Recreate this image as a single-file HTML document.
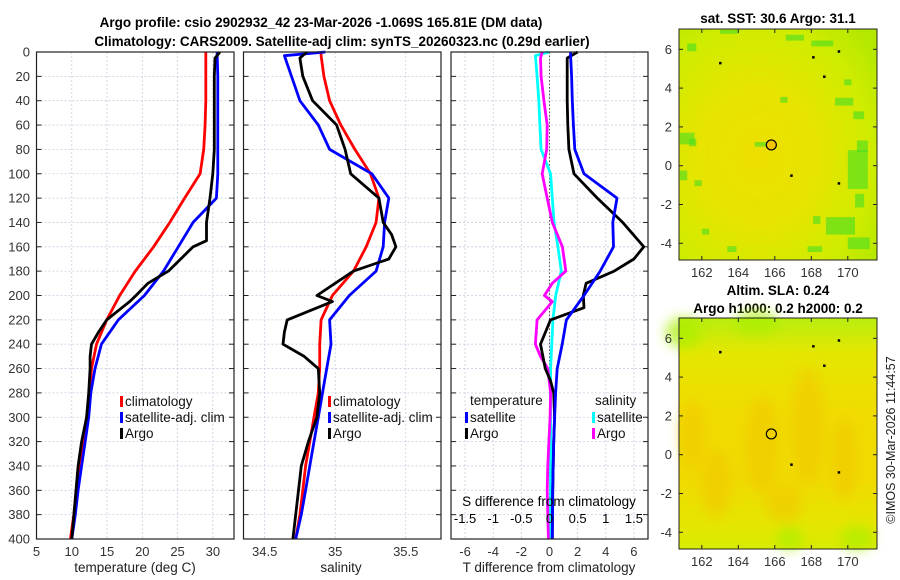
<!DOCTYPE html>
<html><head><meta charset="utf-8"><style>
body{margin:0;background:#fff;}
svg{display:block;font-family:"Liberation Sans","DejaVu Sans",sans-serif;}
</style></head><body>
<svg id="fig" width="900" height="580" viewBox="0 0 900 580" xmlns="http://www.w3.org/2000/svg">
<defs>
<radialGradient id="sstg" cx="0.4" cy="0.55" r="0.75">
<stop offset="0" stop-color="#eedf00"/><stop offset="0.4" stop-color="#e6e400"/><stop offset="0.75" stop-color="#d0ec00"/><stop offset="1" stop-color="#b4e800"/></radialGradient>
<linearGradient id="slag" x1="0" y1="0" x2="0" y2="1">
<stop offset="0" stop-color="#b8ee10"/><stop offset="0.15" stop-color="#e4e600"/><stop offset="0.4" stop-color="#f0dc00"/><stop offset="0.7" stop-color="#f0da00"/><stop offset="0.9" stop-color="#e4e600"/><stop offset="1" stop-color="#d8ea00"/></linearGradient>
<filter id="blur6"><feGaussianBlur stdDeviation="6"/></filter>
</defs>
<g id="titles" font-weight="bold" font-size="13.5" fill="#000" text-anchor="middle">
<text x="321" y="27">Argo profile: csio 2902932_42 23-Mar-2026 -1.069S 165.81E (DM data)</text>
<text x="342" y="46">Climatology: CARS2009. Satellite-adj clim: synTS_20260323.nc (0.29d earlier)</text>
<text x="778" y="23">sat. SST: 30.6 Argo: 31.1</text>
<text x="778" y="295">Altim. SLA: 0.24</text>
<text x="778" y="313">Argo h1000: 0.2 h2000: 0.2</text>
</g>
<text transform="translate(895,440) rotate(-90)" font-size="12.5" text-anchor="middle" fill="#222">©IMOS 30-Mar-2026 11:44:57</text>
<g id="plots"></g>
</svg>
<script>
// ---- data (depth in dbar) ----
const depths = [0,20,40,60,80,100,120,140,160,180,200,220,240,260,280,300,320,340,360,380,400];
const tempClim = [29.0,29.0,29.0,28.9,28.7,28.2,26.0,23.9,21.6,19.0,16.8,14.95,13.5,12.8,12.5,12.1,11.65,11.1,10.7,10.3,9.8];
const tempSat  = [30.6,30.7,30.7,30.7,30.7,30.7,30.5,27.2,25.1,23.0,20.3,16.6,14.2,13.3,12.7,12.4,11.9,11.4,10.9,10.5,10.0];
const argoDepths = [0,5,20,40,60,80,100,120,140,155,160,180,190,200,205,220,230,240,250,260,280,300,320,340,360,380,400];
const tempArgo = [31.0,30.3,30.2,30.2,30.2,30.2,30.0,29.6,29.1,29.1,27.2,23.7,20.8,19.1,18.2,14.95,13.8,12.8,12.6,12.6,12.4,12.1,11.4,10.9,10.6,10.3,10.0];
const satDepths = [0,3,20,40,60,80,100,120,140,160,180,200,220,240,260,280,300,320,340,360,380,400];
const salClim = [34.90,34.90,34.92,34.96,35.04,35.14,35.25,35.31,35.29,35.22,35.13,34.98,34.90,34.89,34.89,34.88,34.85,34.82,34.79,34.77,34.75,34.72];
const salSat  = [34.93,34.64,34.69,34.75,34.88,34.96,35.26,35.38,35.35,35.34,35.29,35.10,34.96,34.97,34.94,34.91,34.88,34.85,34.82,34.79,34.76,34.72];
const salArgo = [34.80,34.75,34.77,34.84,35.01,35.07,35.11,35.31,35.34,35.40,35.43,35.38,35.13,34.87,34.98,34.66,34.64,34.63,34.78,34.88,34.89,34.87,34.81,34.76,34.74,34.72,34.70];
const salArgoDepths = [0,5,20,40,60,80,100,120,140,150,160,170,180,200,205,220,230,240,250,260,280,300,320,340,360,380,400];
const tdiffSat  = [1.5,1.5,1.57,1.62,1.7,1.8,2.45,4.8,4.5,4.55,3.6,2.45,1.2,0.9,0.55,0.43,0.36,0.3,0.26,0.23,0.21,0.2];
const tdiffArgo = [2.0,1.26,1.26,1.26,1.3,1.38,1.74,3.4,5.2,6.7,6.0,4.6,2.6,2.4,2.45,0.07,-0.64,-0.3,0.07,0.3,0.36,0.3,0.26,0.23,0.21,0.2];
const tdiffArgoDepths = [0,5,20,40,60,80,100,120,140,160,170,180,190,200,210,220,240,260,270,280,300,320,340,360,380,400];
const sdiffSat  = [-0.01,-0.25,-0.22,-0.19,-0.17,-0.15,0.02,0.05,0.08,0.15,0.21,0.11,0.06,0.04,0.02,0.02,0.02,0.02,0.02,0.02,0.02,0.02];
const sdiffArgo = [-0.13,-0.16,-0.15,-0.1,-0.04,-0.05,-0.13,-0.04,0.05,0.23,0.29,0.05,-0.09,0.05,-0.22,-0.25,-0.16,-0.03,0.02,0.01,-0.01,-0.03,-0.04,-0.03,-0.02];
const sdiffArgoDepths = [0,5,20,40,60,80,100,120,140,160,180,190,200,205,220,240,250,260,280,300,320,340,360,380,400];
const depthTicks = [0,20,40,60,80,100,120,140,160,180,200,220,240,260,280,300,320,340,360,380,400];
const tempTicks = [5,10,15,20,25,30];
const salTicks = [34.5,35,35.5];
const tdiffTicks = [-6,-4,-2,0,2,4,6];
const sdiffTicks = [-1.5,-1,-0.5,0,0.5,1,1.5];
const sdiffTickLabels = ["-1.5","-1","-0.5","0","0.5","1","1.5"];

const NS="http://www.w3.org/2000/svg";
const root=document.getElementById('plots');
function mk(tag,attrs,parent){const e=document.createElementNS(NS,tag);for(const k in attrs)e.setAttribute(k,attrs[k]);(parent||root).appendChild(e);return e;}
const Y0=52,Y1=539;
function yD(d){return Y0+d*(Y1-Y0)/400;}
function linX(x0,x1,v0,v1){return v=>x0+(v-v0)*(x1-x0)/(v1-v0);}
const panels=[
 {name:'temperature',x0:36.5,x1:234,sx:linX(36.5,234,5,33),ticks:tempTicks,labels:tempTicks.map(String),xlabel:'temperature (deg C)',lx:135},
 {name:'salinity',x0:243.5,x1:441,sx:linX(243.5,441,34.35,35.75),ticks:salTicks,labels:salTicks.map(String),xlabel:'salinity',lx:341},
 {name:'difference',x0:451,x1:648,sx:linX(451,648,-7,7),ticks:tdiffTicks,labels:tdiffTicks.map(String),xlabel:'T difference from climatology',lx:549}
];
const sxS=linX(451,648,-1.75,1.75);
panels.forEach((p,i)=>{
 const g=mk('g',{});
 
 
 depthTicks.forEach(d=>{const l=mk('line',{x1:p.x0,x2:p.x1,y1:yD(d),y2:yD(d),stroke:'#c8cde0','stroke-width':0.8,'stroke-dasharray':'2,2'},g);
  
  mk('line',{x1:p.x0,x2:p.x0+5,y1:yD(d),y2:yD(d),stroke:'#222'},g);
  mk('line',{x1:p.x1,x2:p.x1-5,y1:yD(d),y2:yD(d),stroke:'#222'},g);});
 p.ticks.forEach((t,j)=>{const x=p.sx(t);
  const l=mk('line',{x1:x,x2:x,y1:Y0,y2:Y1,stroke:'#c8cde0','stroke-width':0.8,'stroke-dasharray':'2,2'},g);
  
  const tx=mk('text',{x:x,y:Y1+17,'font-size':13,'text-anchor':'middle',fill:'#333'},g);tx.textContent=p.labels[j];
  });
 const xl=mk('text',{x:p.lx,y:572,'font-size':13.5,'text-anchor':'middle',fill:'#222'},g);xl.textContent=p.xlabel;
 
});
depthTicks.forEach(d=>{const t=mk('text',{x:30,y:yD(d)+4.5,'font-size':13,'text-anchor':'end',fill:'#333'});t.textContent=String(d);
 });
const zl=mk('line',{x1:panels[2].sx(0),x2:panels[2].sx(0),y1:Y0,y2:Y1,stroke:'#555','stroke-width':1,'stroke-dasharray':'1.5,2'});

function series(xs,ds,sx,color,name){const pts=xs.map((v,k)=>sx(v).toFixed(1)+','+yD(ds[k]).toFixed(1)).join(' ');
 const l=mk('polyline',{points:pts,fill:'none',stroke:color,'stroke-width':2.8,'stroke-linejoin':'round'});
 }
const P=panels;
series(tempClim,depths,P[0].sx,'#f00','temp-climatology-line');
series(tempSat,depths,P[0].sx,'#00f','temp-satellite-line');
series(tempArgo,argoDepths,P[0].sx,'#000','temp-argo-line');
series(salClim,satDepths,P[1].sx,'#f00','sal-climatology-line');
series(salSat,satDepths,P[1].sx,'#00f','sal-satellite-line');
series(salArgo,salArgoDepths,P[1].sx,'#000','sal-argo-line');
series(sdiffSat,satDepths,sxS,'#00ffff','sdiff-satellite-line');
series(sdiffArgo,sdiffArgoDepths,sxS,'#ff00ff','sdiff-argo-line');
series(tdiffArgo,tdiffArgoDepths,P[2].sx,'#000','tdiff-argo-line');
series(tdiffSat,satDepths,P[2].sx,'#00f','tdiff-satellite-line');
P.forEach(p=>{const r=mk('rect',{x:p.x0,y:Y0,width:p.x1-p.x0,height:Y1-Y0,fill:'none',stroke:'#222','stroke-width':1.2});
 });
const st=mk('text',{x:549,y:506,'font-size':13.5,'text-anchor':'middle',fill:'#000'});st.textContent='S difference from climatology';

sdiffTicks.forEach((t,j)=>{const e=mk('text',{x:sxS(t),y:523,'font-size':13,'text-anchor':'middle',fill:'#000'});e.textContent=sdiffTickLabels[j];
 });
function legend(x,y,color,label,name){const g=mk('g',{});
 mk('rect',{x:x,y:y-10,width:3,height:11,fill:color},g);
 const t=mk('text',{x:x+5,y:y,'font-size':13.5,fill:'#111'},g);t.textContent=label;}
legend(120,406,'#f00','climatology','legend-temp-climatology');
legend(120,422,'#00f','satellite-adj. clim','legend-temp-satellite');
legend(120,438,'#000','Argo','legend-temp-argo');
legend(328,406,'#f00','climatology','legend-sal-climatology');
legend(328,422,'#00f','satellite-adj. clim','legend-sal-satellite');
legend(328,438,'#000','Argo','legend-sal-argo');
const lt=mk('text',{x:470,y:405,'font-size':13.5,fill:'#111'});lt.textContent='temperature';
const ls=mk('text',{x:595,y:405,'font-size':13.5,fill:'#111'});ls.textContent='salinity';
legend(465,422,'#00f','satellite','legend-tdiff-satellite');
legend(465,438,'#000','Argo','legend-tdiff-argo');
legend(592,422,'#00ffff','satellite','legend-sdiff-satellite');
legend(592,438,'#ff00ff','Argo','legend-sdiff-argo');

// ---- maps ----
const lonTicks=[162,164,166,168,170];
const latTicks=[-4,-2,0,2,4,6];
const floatLon=165.81, floatLat=1.07;
// SST green patches [lon, lat, widthDeg, heightDeg]
const greenPatches=[[160.8,1.4,0.8,0.6],[161.3,1.2,0.4,0.4],[160.8,-0.5,0.4,0.5],[161.6,-0.9,0.4,0.3],[164.9,1.1,0.7,0.25],[170,-0.2,1.1,2.0],[170.5,1.0,0.6,0.6],[168.8,-3.1,1.6,0.9],[170,-4,1.2,0.6],[168.1,-2.8,0.4,0.4],[169.3,3.3,1.0,0.4],[170.3,2.6,0.6,0.4],[166.6,6.6,1.0,0.3],[168,6.3,1.2,0.3],[163,6.9,1.0,0.2],[161.2,6.1,0.5,0.4],[167.8,-4.3,0.8,0.3],[170.4,-1.8,0.5,0.7],[169.8,4.3,0.4,0.3],[166.3,3.4,0.4,0.3],[163.4,-4.3,0.5,0.3],[162,-3.4,0.4,0.3]];
// SLA orange blobs [lon, lat, rxDeg, ryDeg]
const orangeBlobs=[[161.5,1.0,0.7,1.8],[162.8,-1.5,0.8,1.8],[165.3,0.5,0.9,2.5],[167.8,1.5,0.9,3.0],[169.8,-0.2,0.7,2.2],[166.5,-2.5,1.0,1.0]];
const limeBlobs=[[165,6.8,1.2,0.6],[161,6.3,1.0,0.8],[166.8,-4.3,0.7,0.6],[170.5,-4.3,0.9,0.6]];
const blackDots=[[163,5.3],[168.1,5.6],[168.7,4.6],[169.5,5.9],[166.9,-0.5],[169.5,-0.9]];
function drawMap(top,fill,name,patches,blobs,limes,markerFill){
 const x0=679,x1=877,y0=top,y1=top+231;
 const sx=linX(x0,x1,160.75,171.6), sy=linX(y0+20.3,y0+214.3,6,-4);
 const g=mk('g',{});
 mk('rect',{x:x0,y:y0,width:x1-x0,height:y1-y0,fill:fill},g);
 const bl=mk('g',{filter:'url(#blur6)'},g);
 blobs.forEach(b=>{const e=mk('ellipse',{cx:sx(b[0]),cy:sy(b[1]),rx:b[2]*18.2,ry:b[3]*19.4,fill:'#f2c800',opacity:0.6},bl);
  });
 limes.forEach(b=>{const e=mk('ellipse',{cx:sx(b[0]),cy:sy(b[1]),rx:b[2]*18.2,ry:b[3]*19.4,fill:'#a8f000',opacity:0.7},bl);
  });
 patches.forEach(pc=>{const r=mk('rect',{x:sx(pc[0]),y:sy(pc[1]+pc[3]/2),width:pc[2]*18.2,height:pc[3]*19.4,fill:'#44dd22',opacity:0.6},g);
  });
 blackDots.forEach(b=>{const c=mk('rect',{x:sx(b[0])-1,y:sy(b[1])-1,width:2.5,height:2.5,fill:'#000'},g);
  });
 const c=mk('circle',{cx:sx(floatLon),cy:sy(floatLat),r:5,fill:markerFill,stroke:'#000','stroke-width':1.2},g);
 
 mk('rect',{x:x0,y:y0,width:x1-x0,height:y1-y0,fill:'none',stroke:'#222','stroke-width':1},g);
 lonTicks.forEach(t=>{const x=sx(t);mk('line',{x1:x,x2:x,y1:y1,y2:y1-4,stroke:'#222'},g);mk('line',{x1:x,x2:x,y1:y0,y2:y0+4,stroke:'#222'},g);
  const e=mk('text',{x:x,y:y1+17,'font-size':13,'text-anchor':'middle',fill:'#333'},g);e.textContent=String(t);
  });
 latTicks.forEach(t=>{const y=sy(t);mk('line',{x1:x0,x2:x0+4,y1:y,y2:y,stroke:'#222'},g);mk('line',{x1:x1,x2:x1-4,y1:y,y2:y,stroke:'#222'},g);
  const e=mk('text',{x:672,y:y+4.5,'font-size':13,'text-anchor':'end',fill:'#333'},g);e.textContent=String(t);
  });
}
drawMap(29,'url(#sstg)','sst-map',greenPatches,[],[],'#f5c400');
drawMap(318,'url(#slag)','sla-map',[],orangeBlobs,limeBlobs,'none');
</script>
</body></html>
